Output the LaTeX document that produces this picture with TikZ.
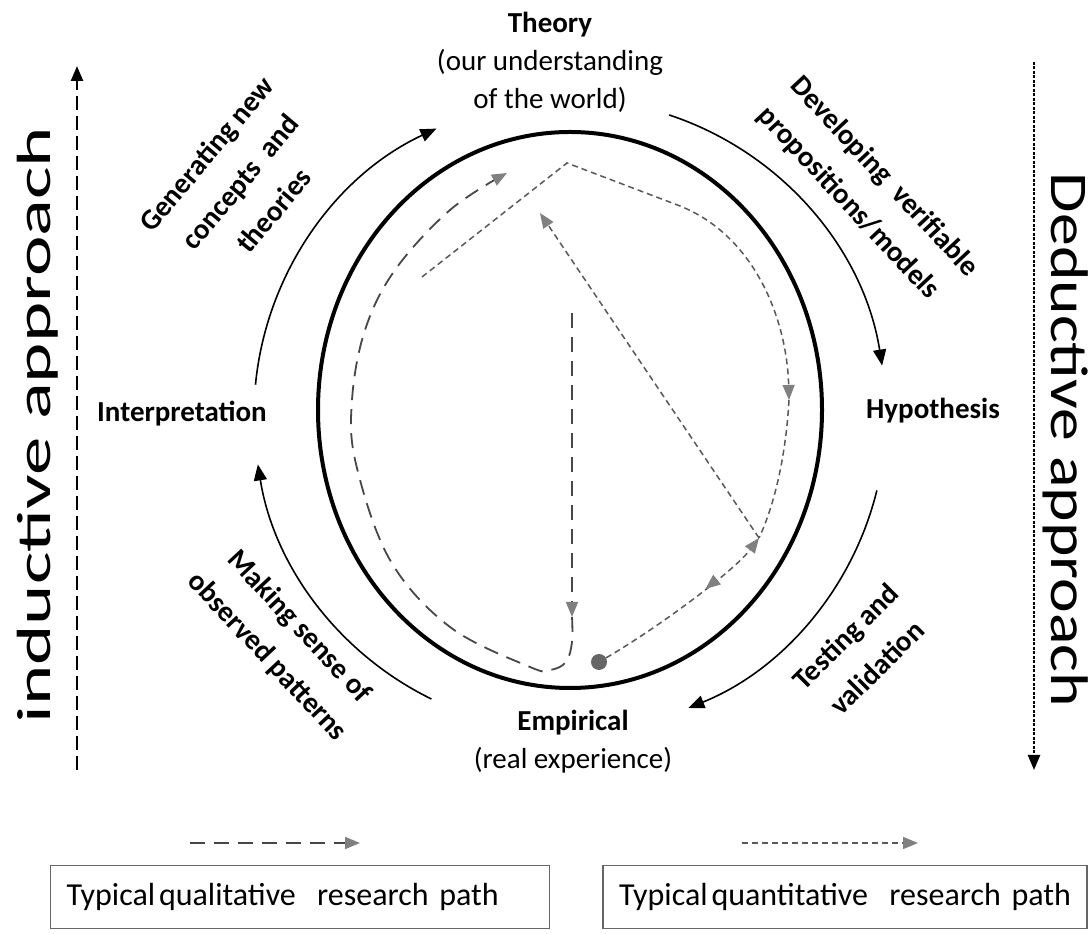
\documentclass[tikz,border=0pt]{standalone}
\usepackage{fontspec}
\setmainfont{Carlito}
\usetikzlibrary{arrows.meta,decorations.markings,calc}
\begin{document}
\begin{tikzpicture}[x=1pt,y=1pt,
  lbl/.style={font=\fontsize{29}{38}\selectfont, inner sep=0pt, align=center},
  blbl/.style={font=\fontsize{29}{38}\selectfont\bfseries, inner sep=0pt, align=center},
  rlbl/.style={font=\fontsize{29}{44}\selectfont\bfseries, inner sep=0pt, align=center},
  big/.style={font=\fontsize{48}{48}\selectfont, inner sep=0pt},
  cyc/.style={line width=1.6pt, -{Triangle[length=16pt,width=13pt]}},
  qual/.style={draw=black!72, line width=1.8pt, dash pattern=on 15pt off 9pt},
  quant/.style={draw=black!65, line width=1.5pt, dash pattern=on 6pt off 4pt},
  gtip/.style={-{Triangle[length=15pt,width=12pt,color=black!50]}},
  legbox/.style={draw=black!60, line width=1.3pt, minimum height=63pt, inner xsep=16pt,
    font=\fontsize{32}{38}\selectfont, align=left}
]
\useasboundingbox (0,0) rectangle (1090,934);
\fill[white] (0,0) rectangle (1090,934);

% centres
\coordinate (O) at (570,519);
\coordinate (ring) at (570,524);
\draw[line width=4pt] (ring) ellipse [x radius=252, y radius=278];

% labels
\node[lbl] (theory) at (550,872) {\textbf{Theory}\\(our understanding\\of the world)};
\node[blbl] (interp) at (182,520) {Interpretation};
\node[blbl] (hyp) at (933,523) {Hypothesis};
\node[lbl] (emp) at (573,192) {\textbf{Empirical}\\(real experience)};

% cycle arcs
\draw[cyc] ([shift={(174.5:316)}]O) arc[start angle=174.5, end angle=115, radius=316];
\draw[cyc] ([shift={(71.7:316)}]O) arc[start angle=71.7, end angle=9, radius=316];
\draw[cyc] ([shift={(-13.8:316)}]O) arc[start angle=-13.8, end angle=-68, radius=316];
\draw[cyc] ([shift={(244:316)}]O) arc[start angle=244, end angle=189, radius=316];

% arc labels
\node[rlbl, rotate=50] (gen) at (240,752) {Generating new\\concepts~ and\\theories};
\node[rlbl, rotate=-47, align=left] (dev) at (868,742) {Developing~~verifiable\\propositions/models};
\node[rlbl, rotate=-47] (mak) at (283,292) {Making sense of\\observed patterns};
\node[rlbl, rotate=45] (tes) at (861,282) {Testing and\\validation};

% side approaches
\coordinate (indA) at (77,164);
\coordinate (indB) at (77,868);
\draw[line width=2.4pt, dash pattern=on 14pt off 6pt, -{Triangle[length=15pt,width=12pt]}] (indA) -- (indB);
\node[big, rotate=90] (ind) at (38,509) {\scalebox{1.6}[1]{inductive approach}};
\coordinate (dedA) at (1034,872);
\coordinate (dedB) at (1034,164);
\draw[line width=2.4pt, dash pattern=on 3pt off 1.5pt, -{Triangle[length=15pt,width=12pt]}] (dedA) -- (dedB);
\node[font=\fontsize{53}{53}\selectfont, inner sep=0pt, rotate=-90] (ded) at (1066,494) {\scalebox{1.24}[1]{Deductive approach}};

% qualitative path
\coordinate (q0) at (572,621);
\coordinate (q1) at (572,317);
\draw[qual, gtip] (q0) -- (q1);
\draw[qual, gtip] plot[smooth, tension=0.6] coordinates {(572,317) (572,292) (566,272) (550,264) (530,267) (450,307) (390,374) (356,470) (352,534) (365,604) (395,664) (450,724) (507,761)};

% quantitative path
\coordinate (s0) at (422,657);
\coordinate (peak) at (567,771);
\coordinate (hy) at (789,534);
\coordinate (vx) at (759,396);
\coordinate (th) at (540,721);
\node[circle, fill=black!60, inner sep=0pt, minimum size=16pt] (dot) at (599,272) {};
\draw[quant, gtip] (s0) -- (peak) -- (680,728) .. controls (755,698) and (787,614) .. (hy);
\draw[quant] (hy) .. controls (786,480) and (775,430) .. (vx);
\draw[quant, gtip, postaction={decorate}, decoration={markings, mark=at position 0.62 with {\arrowreversed{Triangle[length=15pt,width=12pt,color=black!50]}}}] (dot) .. controls (659,307) and (734,363) .. (vx);
\draw[quant, gtip] (vx) -- (th);

% legend
\coordinate (la) at (190,91);
\coordinate (lb) at (360,91);
\draw[qual, gtip] (la) -- (lb);
\coordinate (lc) at (742,91);
\coordinate (ld) at (918,91);
\draw[quant, gtip] (lc) -- (ld);
\node[legbox, text width=467pt] (box1) at (300,37) {Typical\hspace{0.12em}qualitative\ \ research path};
\node[legbox, text width=452pt] (box2) at (845,37) {Typical\hspace{0.12em}quantitative\ \ research path};
\end{tikzpicture}
\end{document}
